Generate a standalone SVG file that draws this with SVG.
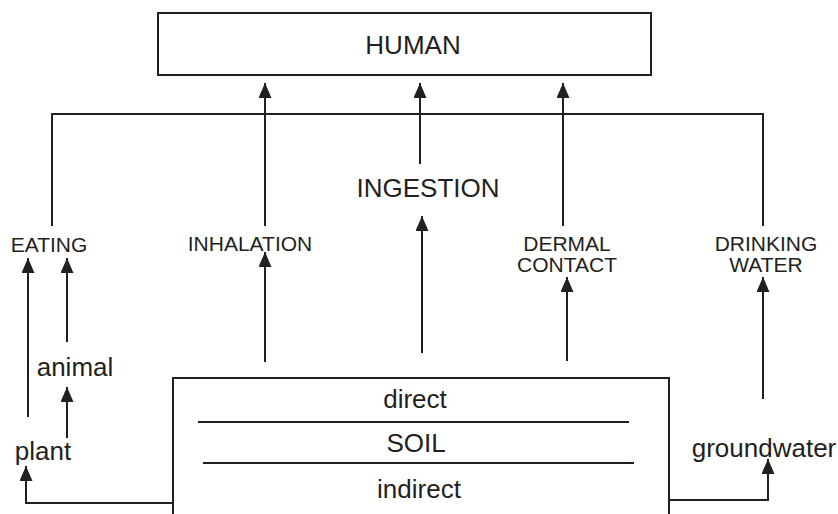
<svg xmlns="http://www.w3.org/2000/svg" width="838" height="514" viewBox="0 0 838 514">
<defs>
<marker id="ah" markerUnits="userSpaceOnUse" markerWidth="15" markerHeight="13" refX="15" refY="6.5" orient="auto">
<path d="M0,0 L15,6.5 L0,13 z" fill="#231f20"/>
</marker>
<style>
.t{font-family:"Liberation Sans",Arial,sans-serif;fill:#231f20;text-anchor:middle}
.big{font-size:26px}
.lab{font-size:21px}
.box{fill:none;stroke:#231f20;stroke-width:2}
.ln{fill:none;stroke:#231f20;stroke-width:2}
.ar{fill:none;stroke:#231f20;stroke-width:2;marker-end:url(#ah)}
</style>
</defs>
<rect width="838" height="514" fill="#fff"/>
<g id="human">
<rect class="box" x="158" y="13" width="493" height="62"/>
<text class="t big" x="413" y="54">HUMAN</text>
</g>
<g id="ingestion"><text class="t big" x="428" y="197">INGESTION</text></g>
<g id="eating"><text class="t lab" x="49" y="252">EATING</text></g>
<g id="inhalation"><text class="t lab" x="250" y="251">INHALATION</text></g>
<g id="dermal"><text class="t lab" x="567" y="251">DERMAL</text><text class="t lab" x="567" y="272">CONTACT</text></g>
<g id="drinking"><text class="t lab" x="766" y="251">DRINKING</text><text class="t lab" x="766" y="272">WATER</text></g>
<g id="animal"><text class="t big" x="75" y="376">animal</text></g>
<g id="plant"><text class="t big" x="43" y="460">plant</text></g>
<g id="groundwater"><text class="t big" x="764" y="457">groundwater</text></g>
<g id="soil">
<path class="box" d="M173,516 V378 H669 V516"/>
<line class="ln" x1="198" y1="422" x2="629" y2="422"/>
<line class="ln" x1="203" y1="463" x2="634" y2="463"/>
<text class="t big" x="415" y="408">direct</text>
<text class="t big" x="416" y="452">SOIL</text>
<text class="t big" x="419" y="498">indirect</text>
</g>
<g id="connectors">
<path class="ln" d="M52,226 V114 H763 V226"/>
<line class="ar" x1="265" y1="226" x2="265" y2="83"/>
<line class="ar" x1="420" y1="164" x2="420" y2="83"/>
<line class="ar" x1="563" y1="226" x2="563" y2="83"/>
<line class="ar" x1="265" y1="362" x2="265" y2="252"/>
<line class="ar" x1="422" y1="353" x2="422" y2="216"/>
<line class="ar" x1="567" y1="361" x2="567" y2="277"/>
<line class="ar" x1="763" y1="399" x2="763" y2="277"/>
<line class="ar" x1="28" y1="417" x2="28" y2="258"/>
<line class="ar" x1="67" y1="342" x2="67" y2="258"/>
<line class="ar" x1="67" y1="438" x2="67" y2="387"/>
<path class="ar" d="M173,503 H26 V466"/>
<path class="ar" d="M669,500 H768 V459"/>
</g>
</svg>
